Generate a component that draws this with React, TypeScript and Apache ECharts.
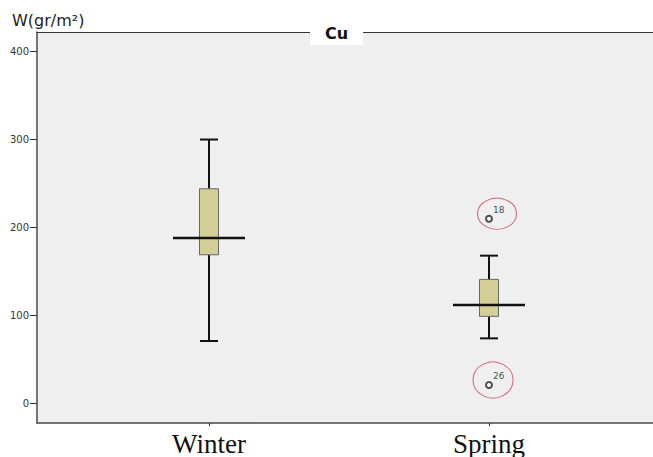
import React, { useEffect, useRef } from "react";
import * as echarts from "echarts";

const categories = ["Winter", "Spring"];
// [min, Q1, median, Q3, max]
const winterStats = [71, 169, 188, 244, 300];
const springStats = [74, 99, 112, 141, 168];
const outlierCategory = [1, 1];
const outlierValues = [210, 21];
const outlierIds = ["18", "26"];
const yTicks = [0, 100, 200, 300, 400];

export default function App() {
  const ref = useRef<HTMLDivElement>(null);
  useEffect(() => {
    if (!ref.current) return;
    const chart = echarts.init(ref.current, null, { renderer: "svg" });
    const boxData = [
      [0, ...winterStats],
      [1, ...springStats],
    ];
    const outlierData = outlierValues.map((v, i) => [outlierCategory[i], v, outlierIds[i]]);
    const ellipseSizes = [[39, 31], [40, 36]];
    const ellipseOffsets = [[8, -5], [4, -5]];
    const ellipseData = outlierValues.map((v, i) => ({
      value: [outlierCategory[i], v],
      symbolSize: ellipseSizes[i],
      symbolOffset: ellipseOffsets[i],
    }));
    const xMin = (37 - 209) / 280;
    const xMax = (653 - 209) / 280;
    chart.setOption({
      animation: false,
      backgroundColor: "#ffffff",
      title: {
        text: "Cu",
        left: 310,
        top: 21,
        backgroundColor: "#ffffff",
        padding: [4, 15, 4, 15],
        textStyle: { fontFamily: "DejaVu Sans", fontWeight: "bold", fontSize: 16, color: "#111" },
        z: 10,
      },
      graphic: [
        {
          type: "text",
          left: 12,
          top: 12,
          style: { text: "W(gr/m²)", font: "16px 'DejaVu Sans'", fill: "#222" },
        },
      ],
      grid: {
        left: 37,
        right: 0,
        top: 32,
        bottom: 25,
        show: true,
        backgroundColor: "#efefef",
        borderWidth: 0,
      },
      xAxis: [
        {
          type: "value",
          min: xMin,
          max: xMax,
          axisLine: { show: true, onZero: false, lineStyle: { color: "#4a4a4a", width: 1.5 } },
          axisTick: { show: true, length: 3, customValues: [0, 1], lineStyle: { color: "#333" } },
          splitLine: { show: false },
          axisLabel: {
            customValues: [0, 1],
            formatter: (v: number) => categories[Math.round(v)] ?? "",
            fontFamily: "Liberation Serif",
            fontSize: 27,
            color: "#111",
            margin: 7,
          },
        },
        {
          type: "value",
          position: "top",
          min: xMin,
          max: xMax,
          axisLine: { show: true, onZero: false, lineStyle: { color: "#333", width: 1.2 } },
          axisTick: { show: false },
          axisLabel: { show: false },
          splitLine: { show: false },
        },
      ],
      yAxis: {
        type: "value",
        min: -20 / 0.9,
        max: 380 / 0.9,
        axisLine: { show: true, onZero: false, lineStyle: { color: "#4a4a4a", width: 1.5 } },
        axisTick: { show: true, length: 7, customValues: yTicks, lineStyle: { color: "#333" } },
        splitLine: { show: false },
        axisLabel: {
          customValues: yTicks,
          fontFamily: "DejaVu Sans",
          fontSize: 10,
          color: "#333",
          margin: 8,
        },
      },
      series: [
        {
          type: "custom",
          data: boxData,
          clip: false,
          encode: { x: 0, y: [1, 2, 3, 4, 5] },
          renderItem: (params: any, api: any) => {
            const x = api.value(0);
            const pMin = api.coord([x, api.value(1)]);
            const pQ1 = api.coord([x, api.value(2)]);
            const pMed = api.coord([x, api.value(3)]);
            const pQ3 = api.coord([x, api.value(4)]);
            const pMax = api.coord([x, api.value(5)]);
            const cx = pMin[0];
            const hb = 9.5, hc = 9, hm = 36;
            const ls = { stroke: "#111", lineWidth: 2 };
            return {
              type: "group",
              children: [
                { type: "line", shape: { x1: cx, y1: pMax[1], x2: cx, y2: pQ3[1] }, style: ls },
                { type: "line", shape: { x1: cx, y1: pQ1[1], x2: cx, y2: pMin[1] }, style: ls },
                { type: "line", shape: { x1: cx - hc, y1: pMax[1], x2: cx + hc, y2: pMax[1] }, style: ls },
                { type: "line", shape: { x1: cx - hc, y1: pMin[1], x2: cx + hc, y2: pMin[1] }, style: ls },
                {
                  type: "rect",
                  shape: { x: cx - hb, y: pQ3[1], width: 2 * hb, height: pQ1[1] - pQ3[1] },
                  style: { fill: "#d4cf96", stroke: "#666", lineWidth: 1 },
                },
                { type: "line", shape: { x1: cx - hm, y1: pMed[1], x2: cx + hm, y2: pMed[1] }, style: { stroke: "#111", lineWidth: 2.5 } },
              ],
            };
          },
        },
        {
          type: "scatter",
          data: outlierData,
          symbol: "emptyCircle",
          symbolSize: 6,
          itemStyle: { color: "#222", borderColor: "#222", borderWidth: 1 },
          label: {
            show: true,
            formatter: (p: any) => p.value[2],
            position: [8, -9],
            align: "left",
            verticalAlign: "top",
            fontFamily: "DejaVu Sans",
            fontSize: 9,
            color: "#222",
          },
        },
        {
          type: "scatter",
          data: ellipseData,
          symbol: "circle",
          itemStyle: { color: "rgba(0,0,0,0)", borderColor: "#c9485a", borderWidth: 1 },
          silent: true,
        },
      ],
    });
    return () => chart.dispose();
  }, []);
  return <div ref={ref} style={{ position: "fixed", left: 0, top: 0, width: 653, height: 457 }} />;
}
